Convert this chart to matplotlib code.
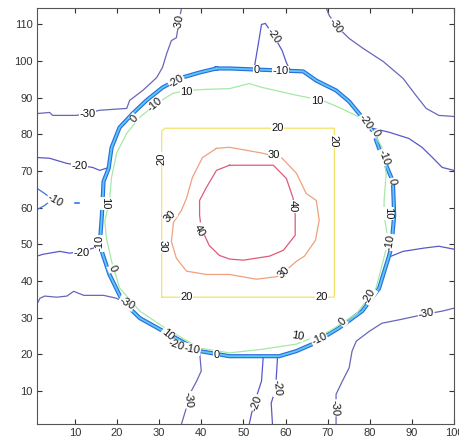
import numpy as np
import matplotlib.pyplot as plt

plt.rcParams['font.family'] = ['Liberation Sans', 'DejaVu Sans']

# contour paths, data units
# circle where the -20 / -10 / 0 levels bunch together
ring_x = [43.6, 46.7, 64.2, 67.3, 72.0, 75.1, 78.4, 80.8, 82.2, 85.5, 85.8, 85.1, 84.4, 82.2, 78.2,
          72.7, 66.4, 62.6, 58.5, 46.7, 39.6, 31.8, 25.4, 21.3, 18.2, 16.6, 15.9, 16.4, 16.8, 18.0,
          18.7, 20.6, 23.7, 27.0, 30.8, 34.8, 39.6, 43.6]
ring_y = [98.0, 98.0, 97.2, 94.7, 92.0, 89.0, 84.4, 80.8, 76.2, 67.2, 57.9, 49.0, 46.2, 38.0, 31.8,
          27.2, 22.8, 20.9, 19.5, 19.5, 20.9, 25.8, 29.9, 34.5, 41.8, 47.3, 50.0, 57.9, 67.2, 70.7,
          76.4, 81.9, 85.7, 89.3, 92.8, 95.3, 96.9, 98.0]

# level 10
c10_x = [41.2, 46.7, 51.4, 54.5, 62.6, 68.7, 72.7, 77.5, 80.6, 82.9, 83.9, 83.4, 83.4, 84.4, 81.5,
         76.8, 70.4, 62.6, 54.5, 46.7, 39.6, 31.8, 25.4, 20.6, 18.7, 17.5, 17.1, 18.2, 18.7, 19.9,
         22.3, 25.4, 29.4, 33.2, 36.5, 41.2]
c10_y = [92.3, 92.5, 93.9, 92.8, 90.7, 89.3, 87.4, 84.7, 81.1, 76.5, 69.3, 62.0, 57.9, 50.9, 38.1,
         31.0, 26.3, 22.8, 21.4, 20.4, 21.7, 26.9, 31.8, 38.1, 45.4, 51.6, 56.3, 62.0, 68.3, 74.9,
         80.3, 84.7, 88.4, 91.2, 92.0, 92.3]

# level 20
c20_x = [30.6, 30.6, 31.4, 71.6, 71.6, 30.6]
c20_y = [35.6, 80.9, 81.7, 81.7, 35.6, 35.6]

# level 30
c30_x = [43.6, 46.7, 54.5, 59.2, 62.6, 64.9, 67.3, 68.0, 67.1, 64.5, 62.6, 58.5, 53.1, 46.7, 41.2,
         36.5, 34.1, 32.9, 33.4, 35.3, 36.5, 37.9, 40.3, 43.6]
c30_y = [76.2, 76.5, 74.9, 73.5, 69.4, 63.9, 62.0, 56.6, 51.1, 46.8, 45.4, 41.3, 40.5, 41.8, 41.8,
         42.7, 46.2, 50.8, 56.0, 59.3, 62.6, 68.3, 73.7, 76.2]

# level 40
c40_x = [46.7, 57.1, 60.2, 61.8, 62.3, 62.3, 59.5, 56.2, 50.0, 46.7, 44.3, 41.9, 40.0, 39.6, 39.6,
         41.2, 43.6, 46.7]
c40_y = [71.6, 71.6, 68.0, 62.6, 58.0, 52.5, 48.4, 46.8, 45.7, 46.0, 47.0, 49.7, 54.4, 57.9, 62.0,
         65.5, 70.2, 71.6]

# level -30 pieces
m30a_x = [1.0, 4.0, 4.7, 10.4, 15.9, 22.3, 23.0, 26.1, 29.4, 30.8, 31.8, 32.9, 34.1, 34.6, 35.3]
m30a_y = [85.7, 86.0, 85.2, 85.2, 86.6, 87.1, 89.3, 92.0, 95.5, 98.3, 102.1, 105.6, 106.4, 110.2, 114.4]
m30b_x = [69.7, 70.4, 72.7, 75.1, 78.4, 83.2, 87.9, 91.0, 93.4, 96.4, 100.0]
m30b_y = [114.4, 112.4, 108.9, 106.2, 103.5, 99.9, 95.3, 90.6, 87.1, 85.2, 84.9]
m30c_x = [72.0, 72.0, 73.5, 75.1, 75.8, 76.8, 79.9, 82.9, 87.7, 92.9, 97.2, 100.0]
m30c_y = [1.0, 9.1, 12.7, 16.3, 20.9, 23.6, 26.3, 28.5, 29.6, 30.9, 31.8, 32.6]
m30d_x = [39.6, 40.0, 38.9, 37.4, 36.3, 35.3]
m30d_y = [20.6, 15.5, 12.7, 9.5, 4.8, 1.0]
m30e_x = [1.0, 1.7, 2.8, 5.7, 8.1, 9.7, 12.1, 16.8, 19.9, 21.8, 23.9]
m30e_y = [33.7, 35.3, 35.9, 35.6, 35.9, 37.2, 36.1, 36.1, 35.3, 34.0, 33.2]

# level -20 pieces
m20a_x = [52.6, 53.6, 54.3, 55.2, 56.9, 59.2, 60.2, 60.9]
m20a_y = [98.3, 105.1, 110.0, 110.3, 107.5, 102.9, 99.6, 98.0]
m20b_x = [80.6, 84.6, 89.3, 92.4, 94.8, 97.2, 100.0]
m20b_y = [81.7, 80.6, 78.9, 76.5, 73.8, 71.0, 70.2]
m20c_x = [85.1, 87.9, 92.9, 96.4, 100.0]
m20c_y = [46.8, 48.1, 49.0, 49.5, 48.7]
m20d_x = [54.7, 54.3, 53.3, 51.9, 51.4]
m20d_y = [19.2, 12.7, 9.2, 3.7, 1.0]
m20e_x = [58.1, 57.8, 57.6, 56.6, 56.9]
m20e_y = [19.2, 13.5, 10.3, 6.7, 1.0]
m20f_x = [1.0, 2.4, 6.4, 8.8, 13.5, 15.9]
m20f_y = [46.8, 47.3, 48.1, 47.6, 48.7, 49.5]
m20g_x = [1.0, 4.0, 8.1, 14.2, 15.9, 17.5]
m20g_y = [73.7, 73.5, 72.1, 71.0, 70.2, 70.8]

# level -10 pieces at the left edge
m10a_x = [1.0, 2.8, 4.6, 2.8, 1.0]
m10a_y = [65.3, 63.9, 62.3, 60.6, 59.5]
m10b_x = [10.0, 11.0]
m10b_y = [61.2, 61.2]

# inline labels: x, y, text, angle
labels = [
    (34.8, 110.5, '-30', 80), (13.0, 85.7, '-30', 0), (24.2, 84.4, '0', 50),
    (28.9, 88.2, '-10', 40), (34.1, 94.5, '-20', 30), (36.5, 91.5, '10', 0),
    (53.1, 97.5, '0', 0), (58.8, 97.2, '-10', 0), (57.1, 107.0, '-20', -55),
    (72.0, 109.7, '-30', -55), (67.5, 89.0, '10', 0), (78.9, 83.3, '-20', -55),
    (81.5, 80.3, '0', -60), (83.4, 73.8, '-10', -70), (85.3, 67.2, '0', -80),
    (84.4, 58.5, '10', -90), (84.8, 50.6, '-10', 80), (79.9, 35.9, '-20', 60),
    (73.5, 29.0, '0', 45), (68.0, 24.2, '-10', 25), (62.8, 25.0, '10', -10),
    (93.4, 31.0, '-30', 10), (71.6, 5.4, '-30', -88), (58.1, 10.8, '-20', -85),
    (53.1, 6.7, '-20', 70), (37.0, 7.6, '-30', -85), (43.6, 19.8, '0', 0),
    (37.9, 21.4, '-10', -10), (34.1, 22.5, '-20', -20), (32.0, 25.5, '10', -40),
    (22.3, 34.0, '-30', -30), (19.0, 43.5, '0', -65), (15.9, 50.3, '-10', 90),
    (17.1, 61.2, '10', -90), (11.6, 47.6, '-20', 0), (11.1, 71.3, '-20', 0),
    (5.2, 62.0, '-10', -30),
    (30.6, 73.4, '20', 90), (58.1, 81.7, '20', 0), (71.3, 78.1, '20', -90),
    (36.5, 35.6, '20', 0), (68.5, 35.6, '20', 0),
    (57.3, 74.3, '30', 0), (59.5, 42.4, '30', 45), (32.5, 57.6, '30', 45),
    (30.8, 49.5, '30', -90),
    (61.8, 60.4, '40', -90), (39.6, 53.8, '40', -60),
]

fig = plt.figure(figsize=(4.6, 4.42), dpi=100)
ax = fig.add_axes([37 / 460, 18 / 442, 417 / 460, 416 / 442])

c_m30 = '#6767b8'
c_m20 = '#5858cc'
c_m10 = '#3d74de'

for xs, ys in [(m30a_x, m30a_y), (m30b_x, m30b_y), (m30c_x, m30c_y),
               (m30d_x, m30d_y), (m30e_x, m30e_y)]:
    ax.plot(xs, ys, color=c_m30, lw=0.9)
for xs, ys in [(m20a_x, m20a_y), (m20b_x, m20b_y), (m20c_x, m20c_y), (m20d_x, m20d_y),
               (m20e_x, m20e_y), (m20f_x, m20f_y), (m20g_x, m20g_y)]:
    ax.plot(xs, ys, color=c_m20, lw=0.9)
ax.plot(m10a_x, m10a_y, color=c_m10, lw=0.9)
ax.plot(m10b_x, m10b_y, color=c_m10, lw=1.2)

ax.plot(ring_x, ring_y, color='#2d6ce0', lw=3.0, solid_joinstyle='round')
ax.plot(ring_x, ring_y, color='#5ccbf2', lw=1.3, solid_joinstyle='round')
ax.plot(c10_x, c10_y, color='#a6e8a6', lw=0.9)
ax.plot(c20_x, c20_y, color='#f2e36a', lw=0.9)
ax.plot(c30_x, c30_y, color='#f0a07e', lw=0.9)
ax.plot(c40_x, c40_y, color='#df5a78', lw=0.9)

for x, y, t, r in labels:
    ax.text(x, y, t, fontsize=8, rotation=r, ha='center', va='center', color='#111111',
            rotation_mode='anchor',
            bbox=dict(facecolor='white', edgecolor='none', pad=0.3))

ax.set_xlim(1, 100)
ax.set_ylim(1, 114.5)
ax.set_xticks(np.arange(10, 101, 10))
ax.set_yticks(np.arange(10, 111, 10))
ax.tick_params(direction='in', length=3.5, top=True, right=True, labelsize=8,
               colors='#333333', pad=3)
for s in ax.spines.values():
    s.set_color('#555555')
    s.set_linewidth(0.8)

plt.savefig('out.png', dpi=100)
